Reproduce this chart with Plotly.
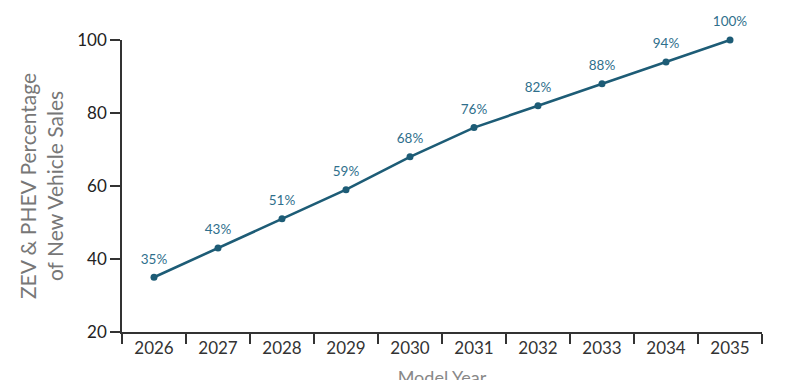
import plotly.graph_objects as go

years = ["2026", "2027", "2028", "2029", "2030", "2031", "2032", "2033", "2034", "2035"]
share = [35, 43, 51, 59, 68, 76, 82, 88, 94, 100]
labels = [f"{v}%" for v in share]

FONT = "Lato, Open Sans, sans-serif"

fig = go.Figure()
fig.add_trace(go.Scatter(
    x=years, y=share, mode="lines+markers",
    line=dict(color="#1d5c76", width=2.6),
    marker=dict(color="#1d5c76", size=7),
    cliponaxis=False, showlegend=False, hoverinfo="skip",
))
# value labels (invisible larger markers give the label offset)
fig.add_trace(go.Scatter(
    x=years, y=share, mode="markers+text",
    text=labels, textposition="top center",
    textfont=dict(family=FONT, size=13.5, color="#2f6f8c"),
    marker=dict(color="rgba(0,0,0,0)", size=15),
    cliponaxis=False, showlegend=False,
))

fig.update_layout(
    width=802, height=380,
    margin=dict(l=114, r=48, t=32, b=56),
    paper_bgcolor="white", plot_bgcolor="white",
    font=dict(family=FONT, color="#222"),
)
fig.update_xaxes(
    type="category", range=[-0.5, 9.5], automargin=False,
    showline=True, linecolor="#333", linewidth=1.5,
    ticks="outside", tickson="boundaries", ticklen=10, tickwidth=1.5, tickcolor="#333",
    tickfont=dict(size=17, color="#333"),
    showgrid=False, zeroline=False,
    title=dict(text="Model Year", font=dict(size=18, color="#888"), standoff=34),
)
fig.update_yaxes(
    range=[20, 100], tickvals=[20, 40, 60, 80, 100], automargin=False,
    showline=True, linecolor="#333", linewidth=1.5,
    ticks="outside", ticklen=10, tickwidth=1.5, tickcolor="#333",
    tickfont=dict(size=17, color="#222"),
    showgrid=False, zeroline=False,
    title=dict(text="ZEV & PHEV Percentage<br>of New Vehicle Sales",
               font=dict(size=21, color="#777"), standoff=8),
)

fig.write_html("out.html")
